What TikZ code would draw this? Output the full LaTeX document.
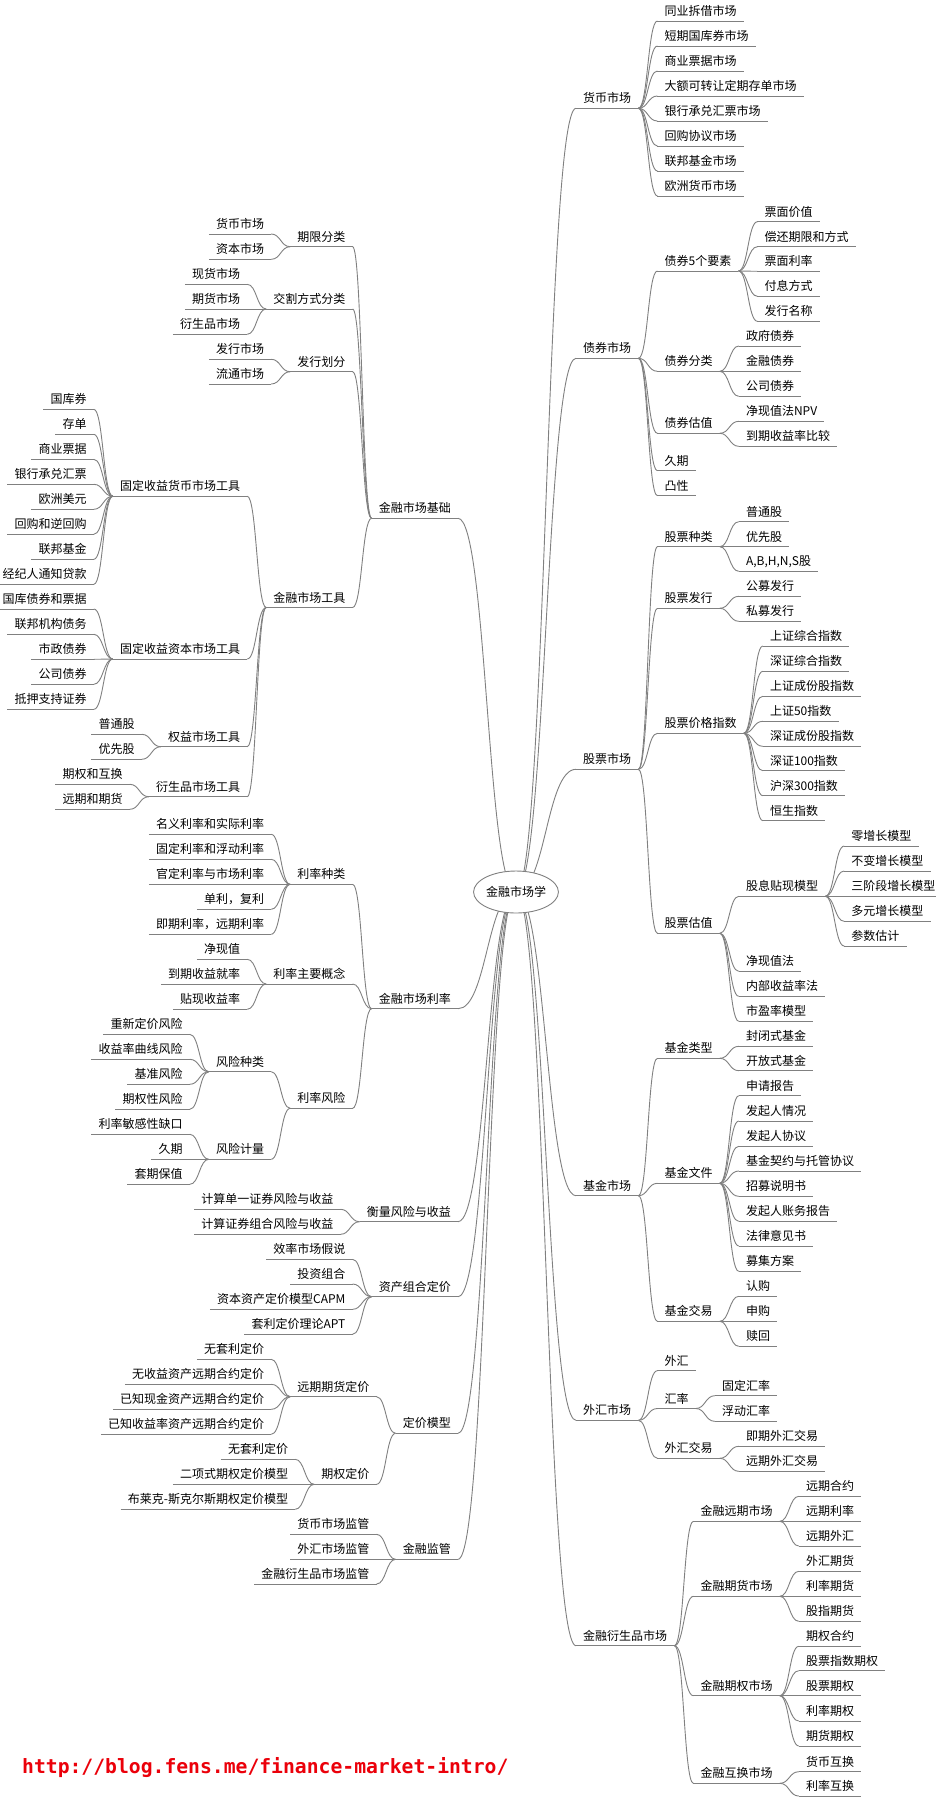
\documentclass[tikz,border=0pt]{standalone}
\usepackage{fontspec}
\setmainfont{Noto Sans CJK SC}
\newfontfamily\urlfont{DejaVu Sans Mono}
\usetikzlibrary{calc,shapes.geometric}
\definecolor{lg}{RGB}{128,128,128}
\definecolor{urlred}{RGB}{235,0,10}
\tikzset{
 lbl/.style={inner xsep=7pt, inner ysep=0pt, font=\fontsize{12}{14}\selectfont, text=black},
 ul/.style={draw=lg, line width=0.9pt},
 edge/.style={draw=lg, line width=0.9pt},
 rootnode/.style={draw=lg, line width=0.9pt, fill=white, ellipse, minimum width=78, minimum height=42, inner sep=0pt, font=\fontsize{12}{14}\selectfont},
 urlnode/.style={inner sep=0pt, text=urlred, font=\fontsize{19.7}{22}\urlfont\bfseries}
}
\newcommand\ED[2]{\coordinate (mm) at ($(#1)!0.5!(#2)$);
  \draw[edge] (#1) .. controls (mm |- #1) and (mm |- #2) .. (#2);}
\newcommand\RA[4]{\coordinate (uu) at (0,#3);
  \node[lbl, anchor=base west] (#1) at (#2-7,#3-5.5) {#4};
  \draw[ul] (#1.west |- uu) coordinate (#1L) -- (#1.east |- uu) coordinate (#1R);
  \ED{rc}{#1L}}
\newcommand\RN[4]{\coordinate (uu) at (0,#3);
  \coordinate (tt) at ($(#2.east)+(19,0)$);
  \node[lbl, anchor=base west] (#1) at ($(tt |- uu)+(0,-5.5)$) {#4};
  \draw[ul] (#1.west |- uu) coordinate (#1L) -- (#1.east |- uu) coordinate (#1R);
  \ED{#2R}{#1L}}
\newcommand\LA[4]{\coordinate (uu) at (0,#3);
  \node[lbl, anchor=base east] (#1) at (#2+7,#3-5.5) {#4};
  \draw[ul] (#1.west |- uu) coordinate (#1L) -- (#1.east |- uu) coordinate (#1R);
  \ED{rc}{#1R}}
\newcommand\LN[4]{\coordinate (uu) at (0,#3);
  \coordinate (tt) at ($(#2.west)+(-19,0)$);
  \node[lbl, anchor=base east] (#1) at ($(tt |- uu)+(0,-5.5)$) {#4};
  \draw[ul] (#1.west |- uu) coordinate (#1L) -- (#1.east |- uu) coordinate (#1R);
  \ED{#2L}{#1R}}
\begin{document}
\begin{tikzpicture}[x=1pt,y=-1pt]
\fill[white] (0,0) rectangle (935,1797);
\useasboundingbox (0,0) rectangle (935,1797);
\coordinate (rc) at (516,892);
% ---------------- right side ----------------
\RA{hb}{583}{108.3}{货币市场}
\RN{hba}{hb}{21}{同业拆借市场}
\RN{hbb}{hb}{46}{短期国库券市场}
\RN{hbc}{hb}{71}{商业票据市场}
\RN{hbd}{hb}{96}{大额可转让定期存单市场}
\RN{hbe}{hb}{121}{银行承兑汇票市场}
\RN{hbf}{hb}{146}{回购协议市场}
\RN{hbg}{hb}{171}{联邦基金市场}
\RN{hbh}{hb}{196}{欧洲货币市场}
\RA{zq}{583}{358.3}{债券市场}
\RN{zqa}{zq}{271}{债券5个要素}
\RN{zqaa}{zqa}{221.7}{票面价值}
\RN{zqab}{zqa}{246.7}{偿还期限和方式}
\RN{zqac}{zqa}{271.3}{票面利率}
\RN{zqad}{zqa}{296.3}{付息方式}
\RN{zqae}{zqa}{321.3}{发行名称}
\RN{zqb}{zq}{371.3}{债券分类}
\RN{zqba}{zqb}{346}{政府债券}
\RN{zqbb}{zqb}{371.3}{金融债券}
\RN{zqbc}{zqb}{396.3}{公司债券}
\RN{zqc}{zq}{433.3}{债券估值}
\RN{zqca}{zqc}{421.3}{净现值法NPV}
\RN{zqcb}{zqc}{446.3}{到期收益率比较}
\RN{zqd}{zq}{470.7}{久期}
\RN{zqe}{zq}{495.7}{凸性}
\RA{gp}{583}{769.3}{股票市场}
\RN{gpa}{gp}{546.7}{股票种类}
\RN{gpaa}{gpa}{521.7}{普通股}
\RN{gpab}{gpa}{546.7}{优先股}
\RN{gpac}{gpa}{571.3}{A,B,H,N,S股}
\RN{gpb}{gp}{608.3}{股票发行}
\RN{gpba}{gpb}{596.3}{公募发行}
\RN{gpbb}{gpb}{621.3}{私募发行}
\RN{gpc}{gp}{733.3}{股票价格指数}
\RN{gpca}{gpc}{646}{上证综合指数}
\RN{gpcb}{gpc}{671.3}{深证综合指数}
\RN{gpcc}{gpc}{696.3}{上证成份股指数}
\RN{gpcd}{gpc}{721.3}{上证50指数}
\RN{gpce}{gpc}{746.3}{深证成份股指数}
\RN{gpcf}{gpc}{770.7}{深证100指数}
\RN{gpcg}{gpc}{795.7}{沪深300指数}
\RN{gpch}{gpc}{820.7}{恒生指数}
\RN{gpd}{gp}{933.3}{股票估值}
\RN{gpda}{gpd}{896.3}{股息贴现模型}
\RN{gpdaa}{gpda}{846}{零增长模型}
\RN{gpdab}{gpda}{871}{不变增长模型}
\RN{gpdac}{gpda}{896.3}{三阶段增长模型}
\RN{gpdad}{gpda}{921.3}{多元增长模型}
\RN{gpdae}{gpda}{946}{参数估计}
\RN{gpdb}{gpd}{971.3}{净现值法}
\RN{gpdc}{gpd}{996.3}{内部收益率法}
\RN{gpdd}{gpd}{1021.3}{市盈率模型}
\RA{jj}{583}{1195.7}{基金市场}
\RN{jja}{jj}{1058.3}{基金类型}
\RN{jjaa}{jja}{1046.3}{封闭式基金}
\RN{jjab}{jja}{1070.7}{开放式基金}
\RN{jjb}{jj}{1183.3}{基金文件}
\RN{jjba}{jjb}{1095.7}{申请报告}
\RN{jjbb}{jjb}{1121}{发起人情况}
\RN{jjbc}{jjb}{1146.3}{发起人协议}
\RN{jjbd}{jjb}{1171}{基金契约与托管协议}
\RN{jjbe}{jjb}{1196.3}{招募说明书}
\RN{jjbf}{jjb}{1221.3}{发起人账务报告}
\RN{jjbg}{jjb}{1246}{法律意见书}
\RN{jjbh}{jjb}{1271.3}{募集方案}
\RN{jjc}{jj}{1321.3}{基金交易}
\RN{jjca}{jjc}{1296.3}{认购}
\RN{jjcb}{jjc}{1321.3}{申购}
\RN{jjcc}{jjc}{1346.3}{赎回}
\RA{wh}{583}{1420.3}{外汇市场}
\RN{wha}{wh}{1370.7}{外汇}
\RN{whb}{wh}{1408.5}{汇率}
\RN{whba}{whb}{1395.7}{固定汇率}
\RN{whbb}{whb}{1421.3}{浮动汇率}
\RN{whc}{wh}{1458.3}{外汇交易}
\RN{whca}{whc}{1446.3}{即期外汇交易}
\RN{whcb}{whc}{1471.3}{远期外汇交易}
\RA{ys}{583}{1645.7}{金融衍生品市场}
\RN{ysa}{ys}{1521.3}{金融远期市场}
\RN{ysaa}{ysa}{1496.3}{远期合约}
\RN{ysab}{ysa}{1521.3}{远期利率}
\RN{ysac}{ysa}{1546}{远期外汇}
\RN{ysb}{ys}{1596.3}{金融期货市场}
\RN{ysba}{ysb}{1571.3}{外汇期货}
\RN{ysbb}{ysb}{1596.3}{利率期货}
\RN{ysbc}{ysb}{1621.3}{股指期货}
\RN{ysc}{ys}{1695.7}{金融期权市场}
\RN{ysca}{ysc}{1646.3}{期权合约}
\RN{yscb}{ysc}{1670.7}{股票指数期权}
\RN{yscc}{ysc}{1695.7}{股票期权}
\RN{yscd}{ysc}{1721}{利率期权}
\RN{ysce}{ysc}{1746}{期货期权}
\RN{ysd}{ys}{1783.3}{金融互换市场}
\RN{ysda}{ysd}{1771.7}{货币互换}
\RN{ysdb}{ysd}{1796}{利率互换}
% ---------------- left side ----------------
\LA{jc}{451}{518.3}{金融市场基础}
\LN{jca}{jc}{246.7}{期限分类}
\LN{jcaa}{jca}{234}{货币市场}
\LN{jcab}{jca}{259.3}{资本市场}
\LN{jcb}{jc}{309}{交割方式分类}
\LN{jcba}{jcb}{284.3}{现货市场}
\LN{jcbb}{jcb}{309}{期货市场}
\LN{jcbc}{jcb}{334.3}{衍生品市场}
\LN{jcc}{jc}{371.7}{发行划分}
\LN{jcca}{jcc}{359.3}{发行市场}
\LN{jccb}{jcc}{384}{流通市场}
\LN{jcd}{jc}{607.5}{金融市场工具}
\LN{jcda}{jcd}{496.2}{固定收益货币市场工具}
\LN{jcdaa}{jcda}{409.3}{国库券}
\LN{jcdab}{jcda}{434.3}{存单}
\LN{jcdac}{jcda}{459.3}{商业票据}
\LN{jcdad}{jcda}{484.3}{银行承兑汇票}
\LN{jcdae}{jcda}{509.3}{欧洲美元}
\LN{jcdaf}{jcda}{534.3}{回购和逆回购}
\LN{jcdag}{jcda}{559.3}{联邦基金}
\LN{jcdah}{jcda}{584.3}{经纪人通知贷款}
\LN{jcdb}{jcd}{659}{固定收益资本市场工具}
\LN{jcdba}{jcdb}{609}{国库债券和票据}
\LN{jcdbb}{jcdb}{634.3}{联邦机构债务}
\LN{jcdbc}{jcdb}{659.3}{市政债券}
\LN{jcdbd}{jcdb}{684.3}{公司债券}
\LN{jcdbe}{jcdb}{709.3}{抵押支持证券}
\LN{jcdc}{jcd}{746.7}{权益市场工具}
\LN{jcdca}{jcdc}{734.3}{普通股}
\LN{jcdcb}{jcdc}{759.3}{优先股}
\LN{jcdd}{jcd}{796.7}{衍生品市场工具}
\LN{jcdda}{jcdd}{784.3}{期权和互换}
\LN{jcddb}{jcdd}{809.3}{远期和期货}
\LA{ll}{451}{1008.7}{金融市场利率}
\LN{lla}{ll}{884.3}{利率种类}
\LN{llaa}{lla}{834.3}{名义利率和实际利率}
\LN{llab}{lla}{859.3}{固定利率和浮动利率}
\LN{llac}{lla}{884.3}{官定利率与市场利率}
\LN{llad}{lla}{909.3}{单利，复利}
\LN{llae}{lla}{934.3}{即期利率，远期利率}
\LN{llb}{ll}{984}{利率主要概念}
\LN{llba}{llb}{959.3}{净现值}
\LN{llbb}{llb}{984}{到期收益就率}
\LN{llbc}{llb}{1009.3}{贴现收益率}
\LN{llc}{ll}{1108.3}{利率风险}
\LN{llca}{llc}{1071.7}{风险种类}
\LN{llcaa}{llca}{1034.3}{重新定价风险}
\LN{llcab}{llca}{1059.3}{收益率曲线风险}
\LN{llcac}{llca}{1084.3}{基准风险}
\LN{llcad}{llca}{1109.3}{期权性风险}
\LN{llcb}{llc}{1159.3}{风险计量}
\LN{llcba}{llcb}{1134.3}{利率敏感性缺口}
\LN{llcbb}{llcb}{1159.3}{久期}
\LN{llcbc}{llcb}{1184.3}{套期保值}
\LA{hl}{451}{1221.7}{衡量风险与收益}
\LN{hla}{hl}{1209.3}{计算单一证券风险与收益}
\LN{hlb}{hl}{1234.3}{计算证券组合风险与收益}
\LA{zc}{451}{1296.7}{资产组合定价}
\LN{zca}{zc}{1259.3}{效率市场假说}
\LN{zcb}{zc}{1284}{投资组合}
\LN{zcc}{zc}{1309.3}{资本资产定价模型CAPM}
\LN{zcd}{zc}{1334.3}{套利定价理论APT}
\LA{dj}{451}{1433.3}{定价模型}
\LN{dja}{dj}{1396.7}{远期期货定价}
\LN{djaa}{dja}{1359.3}{无套利定价}
\LN{djab}{dja}{1384.3}{无收益资产远期合约定价}
\LN{djac}{dja}{1409.3}{已知现金资产远期合约定价}
\LN{djad}{dja}{1434.3}{已知收益率资产远期合约定价}
\LN{djb}{dj}{1484.3}{期权定价}
\LN{djba}{djb}{1459.3}{无套利定价}
\LN{djbb}{djb}{1484.3}{二项式期权定价模型}
\LN{djbc}{djb}{1509.3}{布莱克-斯克尔斯期权定价模型}
\LA{jg}{451}{1559.3}{金融监管}
\LN{jga}{jg}{1534.3}{货币市场监管}
\LN{jgb}{jg}{1559.3}{外汇市场监管}
\LN{jgc}{jg}{1584}{金融衍生品市场监管}
% ---------------- root & url ----------------
\node[rootnode] (root) at (rc) {金融市场学};
\node[urlnode, anchor=base west] (url) at (22,1773) {http://blog.fens.me/finance-market-intro/};
\end{tikzpicture}
\end{document}
